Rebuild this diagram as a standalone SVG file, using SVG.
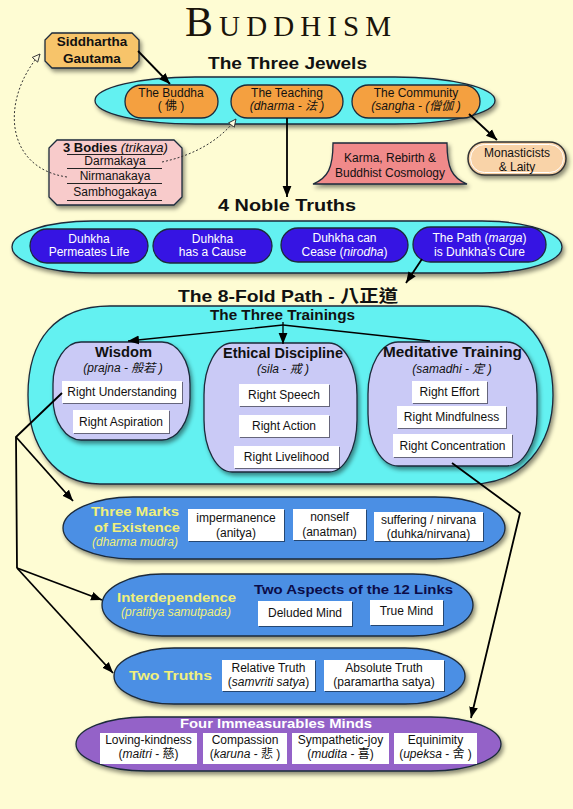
<svg xmlns="http://www.w3.org/2000/svg" width="573" height="809" viewBox="0 0 573 809">
<defs>
<filter id="sh" x="-10%" y="-20%" width="125%" height="150%"><feDropShadow dx="2" dy="3" stdDeviation="2" flood-color="#000" flood-opacity="0.45"/></filter>
<filter id="bs" x="-5%" y="-10%" width="115%" height="130%"><feDropShadow dx="1" dy="1" stdDeviation="0.6" flood-color="#000" flood-opacity="0.5"/></filter>
<marker id="ah" viewBox="0 0 10 10" refX="10" refY="5" markerWidth="11" markerHeight="11" markerUnits="userSpaceOnUse" orient="auto"><path d="M0,1 L10,5 L0,9 z" fill="#000"/></marker>
<marker id="oh" viewBox="0 0 10 10" refX="9" refY="5" markerWidth="9" markerHeight="9" markerUnits="userSpaceOnUse" orient="auto"><path d="M0.5,1 L9,5 L0.5,9 z" fill="#fffde0" stroke="#333" stroke-width="1"/></marker>
</defs>
<style>
text{font-family:"Liberation Sans","Noto Sans CJK TC",sans-serif;font-size:12px;fill:#111;text-anchor:middle}
.h{font-weight:bold;text-anchor:start}
.i{font-style:italic}
.w{fill:#fff}
.y{fill:#f0ef7c}
.st{stroke:#1b2a3a;stroke-width:1.3}
.cy{fill:#63f1f1}
.or{fill:#f4a040}
.db{fill:#3614e3}
.lv{fill:#cacaf6}
.bl{fill:#4b8fe4}
.pu{fill:#9462c8}
.bx{fill:#fff}
.c{fill:none;stroke:#000;stroke-width:1.8}
.d{fill:none;stroke:#333;stroke-width:1;stroke-dasharray:2 2}
</style>
<rect width="573" height="809" fill="#fefcd3"/>

<text x="185" y="36" style="font-family:'Liberation Serif',serif;font-size:42px;font-variant:small-caps;fill:#1a140a;text-anchor:start" textLength="206" lengthAdjust="spacing">Buddhism</text>

<g id="three-jewels">
<rect x="95" y="77" width="400" height="47" rx="100" ry="23.5" class="cy st" filter="url(#sh)"/>
<text class="h" x="208" y="69" font-size="17" style="font-size:17px" textLength="159" lengthAdjust="spacingAndGlyphs">The Three Jewels</text>
</g>
<g id="buddha">
<rect x="125" y="85" width="93" height="33" rx="16.5" class="or st"/>
<text x="171" y="97">The Buddha</text>
<text x="171" y="110">( 佛 )</text>
</g>
<g id="teaching">
<rect x="231" y="85" width="112" height="33" rx="16.5" class="or st"/>
<text x="287" y="97">The Teaching</text>
<text x="287" y="110" class="i">(dharma - 法 )</text>
</g>
<g id="community">
<rect x="352" y="85" width="128" height="33" rx="16.5" class="or st"/>
<text x="416" y="97">The Community</text>
<text x="416" y="110" class="i">(sangha - (僧伽 )</text>
</g>

<g id="siddhartha">
<polygon points="52,33 132,33 139,40 139,61 132,68 52,68 45,61 45,40" fill="#f7c46a" class="st" filter="url(#sh)"/>
<text x="92" y="46" style="font-weight:bold;font-size:13.5px">Siddhartha</text>
<text x="92" y="63" style="font-weight:bold;font-size:13.5px">Gautama</text>
</g>

<g id="three-bodies">
<polygon points="57,140 174,140 182,148 182,197 174,205 57,205 49,197 49,148" fill="#f8cbcb" class="st" filter="url(#sh)"/>
<text x="63" y="152" style="text-anchor:start;font-size:13px"><tspan style="font-weight:bold">3 Bodies </tspan><tspan class="i">(trikaya)</tspan></text>
<g stroke="#222" stroke-width="1">
<line x1="67" y1="154.5" x2="162" y2="154.5"/>
<line x1="67" y1="168.5" x2="162" y2="168.5"/>
<line x1="67" y1="183.5" x2="162" y2="183.5"/>
<line x1="67" y1="200.5" x2="162" y2="200.5"/>
</g>
<text x="115" y="165">Darmakaya</text>
<text x="115" y="180">Nirmanakaya</text>
<text x="115" y="196">Sambhogakaya</text>
</g>

<g id="karma">
<path d="M333,143 L447,143 C447,168 452,178 467,184 L313,184 C328,178 333,168 333,143 Z" fill="#f08a8a" class="st" filter="url(#sh)"/>
<text x="390" y="162">Karma, Rebirth &amp;</text>
<text x="390" y="177">Buddhist Cosmology</text>
</g>

<g id="monasticists">
<rect x="468" y="142" width="98" height="33" rx="16.5" fill="#f9d3a8" stroke="#333" stroke-width="1.5" filter="url(#sh)"/>
<rect x="470.5" y="144.5" width="93" height="28" rx="14" fill="none" stroke="#fff" stroke-width="1"/>
<text x="517" y="157">Monasticists</text>
<text x="517" y="171">&amp; Laity</text>
</g>

<g id="noble-truths">
<rect x="12" y="221" width="550" height="52" rx="80" ry="26" class="cy st" filter="url(#sh)"/>
<text class="h" x="218" y="211" style="font-size:17px" textLength="138" lengthAdjust="spacingAndGlyphs">4 Noble Truths</text>
</g>
<g id="truth1">
<rect x="30" y="229" width="118" height="34" rx="17" class="db st"/>
<text x="89" y="243" class="w">Duhkha</text>
<text x="89" y="256" class="w">Permeates Life</text>
</g>
<g id="truth2">
<rect x="153" y="229" width="119" height="34" rx="17" class="db st"/>
<text x="212.5" y="243" class="w">Duhkha</text>
<text x="212.5" y="256" class="w">has a Cause</text>
</g>
<g id="truth3">
<rect x="281" y="228" width="127" height="34" rx="17" class="db st"/>
<text x="344.5" y="242" class="w">Duhkha can</text>
<text x="344.5" y="256" class="w">Cease (<tspan class="i">nirodha</tspan>)</text>
</g>
<g id="truth4">
<rect x="413" y="227" width="133" height="35" rx="17.5" class="db st"/>
<text x="479.5" y="242" class="w">The Path (<tspan class="i">marga</tspan>)</text>
<text x="479.5" y="256" class="w">is Duhkha's Cure</text>
</g>

<g id="eightfold">
<path d="M110,306 H478 C525,306 553,345 553,395 C553,445 522,484 472,484 H100 C55,484 28,447 28,395 C28,340 55,306 110,306 Z" class="cy st" filter="url(#sh)"/>
<text class="h" x="178" y="302" style="font-size:17px" textLength="220" lengthAdjust="spacingAndGlyphs">The 8-Fold Path - 八正道</text>
<text class="h" x="210" y="320" style="font-size:14px" textLength="145" lengthAdjust="spacingAndGlyphs">The Three Trainings</text>
</g>

<g id="wisdom">
<rect x="53" y="342" width="137" height="98" rx="28" ry="42" class="lv st" filter="url(#sh)"/>
<text class="h" x="95" y="357" style="font-size:14px" textLength="57" lengthAdjust="spacingAndGlyphs">Wisdom</text>
<text x="123" y="372" class="i">(prajna - 般若 )</text>
<rect x="62" y="381" width="120" height="22" class="bx" filter="url(#bs)"/>
<text x="122" y="396">Right Understanding</text>
<rect x="73" y="410" width="96" height="23" class="bx" filter="url(#bs)"/>
<text x="121" y="426">Right Aspiration</text>
</g>

<g id="ethical">
<rect x="204" y="343" width="153" height="129" rx="28" ry="52" class="lv st" filter="url(#sh)"/>
<text class="h" x="223" y="358" style="font-size:14px" textLength="120" lengthAdjust="spacingAndGlyphs">Ethical Discipline</text>
<text x="283" y="373" class="i">(sila - 戒 )</text>
<rect x="239" y="384" width="90" height="22" class="bx" filter="url(#bs)"/>
<text x="284" y="399">Right Speech</text>
<rect x="239" y="415" width="90" height="22" class="bx" filter="url(#bs)"/>
<text x="284" y="430">Right Action</text>
<rect x="234" y="446" width="105" height="22" class="bx" filter="url(#bs)"/>
<text x="286.5" y="461">Right Livelihood</text>
</g>

<g id="meditative">
<rect x="368" y="342" width="169" height="124" rx="30" ry="52" class="lv st" filter="url(#sh)"/>
<text class="h" x="383" y="357" style="font-size:14px" textLength="139" lengthAdjust="spacingAndGlyphs">Meditative Training</text>
<text x="452" y="373" class="i">(samadhi - 定 )</text>
<rect x="412" y="381" width="75" height="22" class="bx" filter="url(#bs)"/>
<text x="449.5" y="396">Right Effort</text>
<rect x="397" y="406" width="109" height="22" class="bx" filter="url(#bs)"/>
<text x="451.5" y="421">Right Mindfulness</text>
<rect x="393" y="434" width="119" height="23" class="bx" filter="url(#bs)"/>
<text x="452.5" y="450">Right Concentration</text>
</g>

<g id="three-marks">
<rect x="63" y="497" width="442" height="62" rx="70" ry="31" class="bl st" filter="url(#sh)"/>
<text class="h y" x="91" y="516" style="font-size:13px" textLength="88" lengthAdjust="spacingAndGlyphs">Three Marks</text>
<text class="h y" x="94" y="532" style="font-size:13px" textLength="86" lengthAdjust="spacingAndGlyphs">of Existence</text>
<text x="135" y="546" class="i y">(dharma mudra)</text>
<rect x="188" y="509" width="96" height="32" class="bx" filter="url(#bs)"/>
<text x="236" y="522">impermanence</text>
<text x="236" y="537">(anitya)</text>
<rect x="293" y="509" width="73" height="31" class="bx" filter="url(#bs)"/>
<text x="329.5" y="521">nonself</text>
<text x="329.5" y="536">(anatman)</text>
<rect x="374" y="512" width="109" height="29" class="bx" filter="url(#bs)"/>
<text x="428.5" y="524">suffering / nirvana</text>
<text x="428.5" y="538">(duhka/nirvana)</text>
</g>

<g id="interdependence">
<rect x="102" y="574" width="371" height="62" rx="60" ry="31" class="bl st" filter="url(#sh)"/>
<text class="h y" x="117" y="602" style="font-size:13px" textLength="119" lengthAdjust="spacingAndGlyphs">Interdependence</text>
<text x="176" y="616" class="i y">(pratitya samutpada)</text>
<text class="h" x="254" y="594" style="font-size:13px;fill:#0c0c48" textLength="199" lengthAdjust="spacingAndGlyphs">Two Aspects of the 12 Links</text>
<rect x="258" y="601" width="94" height="25" class="bx" filter="url(#bs)"/>
<text x="305" y="617">Deluded Mind</text>
<rect x="370" y="600" width="73" height="25" class="bx" filter="url(#bs)"/>
<text x="406.5" y="615">True Mind</text>
</g>

<g id="two-truths">
<rect x="114" y="648" width="351" height="56" rx="60" ry="28" class="bl st" filter="url(#sh)"/>
<text class="h y" x="129" y="680" style="font-size:13px" textLength="83" lengthAdjust="spacingAndGlyphs">Two Truths</text>
<rect x="222" y="660" width="93" height="31" class="bx" filter="url(#bs)"/>
<text x="268.5" y="672">Relative Truth</text>
<text x="268.5" y="686">(<tspan class="i">samvriti satya</tspan>)</text>
<rect x="324" y="660" width="120" height="31" class="bx" filter="url(#bs)"/>
<text x="384" y="672">Absolute Truth</text>
<text x="384" y="686">(paramartha satya)</text>
</g>

<g id="four-immeasurables">
<rect x="76" y="717" width="425" height="54" rx="70" ry="27" class="pu st" filter="url(#sh)"/>
<text class="h w" x="180" y="728" style="font-size:13px" textLength="192" lengthAdjust="spacingAndGlyphs">Four Immeasurables Minds</text>
<rect x="100" y="733" width="97" height="31" class="bx"/>
<text x="148.5" y="744">Loving-kindness</text>
<text x="148.5" y="758">(<tspan class="i">maitri</tspan> - 慈)</text>
<rect x="203" y="733" width="84" height="31" class="bx"/>
<text x="245" y="744">Compassion</text>
<text x="245" y="758">(<tspan class="i">karuna</tspan> - 悲 )</text>
<rect x="292" y="733" width="97" height="31" class="bx"/>
<text x="340.5" y="744">Sympathetic-joy</text>
<text x="340.5" y="758">(<tspan class="i">mudita</tspan> - 喜)</text>
<rect x="394" y="733" width="83" height="31" class="bx"/>
<text x="435.5" y="744">Equinimity</text>
<text x="435.5" y="758">(<tspan class="i">upeksa</tspan> - 舍 )</text>
</g>

<g id="connectors">
<path class="c" d="M138,51 L170,84" marker-end="url(#ah)"/>
<path class="c" d="M469,114 L497,140" marker-end="url(#ah)"/>
<path class="c" d="M287,118 L287,197" marker-end="url(#ah)"/>
<path class="c" d="M422,259 L406,283" marker-end="url(#ah)"/>
<path class="c" d="M283,322 L283,344" marker-end="url(#ah)" style="stroke-width:1.3"/>
<path class="c" d="M283,325 L128,341" marker-end="url(#ah)" style="stroke-width:1.3"/>
<path class="c" d="M283,325 L430,341" style="stroke-width:1.3"/>
<path class="c" d="M62,393 L16,437 L17,568"/>
<path class="c" d="M16,437 L73,501" marker-end="url(#ah)"/>
<path class="c" d="M17,568 L102,600" marker-end="url(#ah)"/>
<path class="c" d="M17,568 L113,673" marker-end="url(#ah)"/>
<path class="c" d="M452,463 L520,513 L471,718" marker-end="url(#ah)"/>
<path class="d" d="M67,177 C5,168 0,100 40,54" marker-end="url(#oh)"/>
<path class="d" d="M162,162 C195,155 220,140 236,119" marker-end="url(#oh)"/>
</g>
</svg>
